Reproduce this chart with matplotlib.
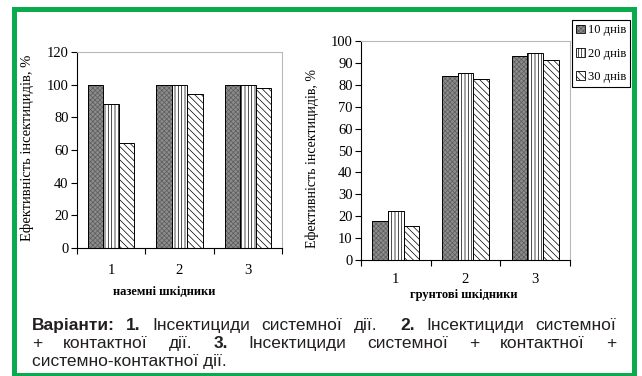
import numpy as np
import matplotlib
matplotlib.use("Agg")
import matplotlib.pyplot as plt
from matplotlib.patches import Rectangle, Patch

# дані
categories = ["1", "2", "3"]
series_names = ["10 днів", "20 днів", "30 днів"]

nazemni_10 = [100, 100, 100]
nazemni_20 = [88, 100, 100]
nazemni_30 = [64, 94, 98]

gruntovi_10 = [18, 84, 93.3]
gruntovi_20 = [22.5, 85.5, 94.3]
gruntovi_30 = [15.5, 82.5, 91.3]

left_yticks = [0, 20, 40, 60, 80, 100, 120]
right_yticks = [0, 10, 20, 30, 40, 50, 60, 70, 80, 90, 100]

ylabel_text = "Ефективність інсектицидів, %"
xlabel_left = "наземні шкідники"
xlabel_right = "грунтові шкідники"

W, H = 642, 376
plt.rcParams['hatch.linewidth'] = 0.5
serif = 'Liberation Serif'
sans = 'Liberation Sans'

# стилі стовпчиків
styles = [
    dict(face='#8c8c8c', hatch='xxxxxxx', hc='#5c5c5c'),
    dict(face='white', hatch='|||||', hc='black'),
    dict(face='white', hatch='\\' * 5, hc='black'),
]
bar_w = 0.225

fig = plt.figure(figsize=(W / 100, H / 100), dpi=100)


def px_box(x0, y0, x1, y1):
    # піксельні координати (зверху вниз) -> частки фігури
    return [x0 / W, 1 - y1 / H, (x1 - x0) / W, (y1 - y0) / H]


def draw_panel(ax, series, ymax, yticks, xpad):
    x = np.arange(len(categories))
    for i, (vals, st) in enumerate(zip(series, styles)):
        pos = x + (i - 1) * bar_w
        ax.bar(pos, vals, bar_w, color=st['face'], edgecolor=st['hc'],
               linewidth=0, hatch=st['hatch'], zorder=2)
        ax.bar(pos, vals, bar_w, color='none', edgecolor='black',
               linewidth=0.7, zorder=3)
    ax.set_xlim(-0.5, len(categories) - 0.5)
    ax.set_ylim(0, ymax)
    ax.set_yticks(yticks)
    ax.set_yticklabels([str(t) for t in yticks], family=serif, fontsize=10.5)
    ax.set_xticks(np.arange(len(categories) + 1) - 0.5)
    ax.set_xticklabels([])
    ax.set_xticks(x, minor=True)
    ax.set_xticklabels(categories, minor=True, family=serif, fontsize=10.5)
    ax.tick_params(axis='both', which='major', direction='out', length=4,
                   width=0.8, pad=2)
    ax.tick_params(axis='x', which='minor', length=0, pad=xpad)
    for s in ['left', 'bottom']:
        ax.spines[s].set_color('black')
        ax.spines[s].set_linewidth(0.8)
    for s in ['top', 'right']:
        ax.spines[s].set_color('#b8b8b8')
        ax.spines[s].set_linewidth(0.8)


ax1 = fig.add_axes(px_box(77, 52, 282, 248))
draw_panel(ax1, [nazemni_10, nazemni_20, nazemni_30], 120, left_yticks, 11.5)

ax2 = fig.add_axes(px_box(361, 41, 570, 260))
draw_panel(ax2, [gruntovi_10, gruntovi_20, gruntovi_30], 100, right_yticks, 9.5)

# підписи осей
fig.text(27 / W, 1 - 148 / H, ylabel_text, rotation=90, ha='center',
         va='center', family=serif, fontsize=10.5)
fig.text(312 / W, 1 - 158 / H, ylabel_text, rotation=90, ha='center',
         va='center', family=serif, fontsize=10)
fig.text(164 / W, 1 - 292 / H, xlabel_left, ha='center', va='center',
         family=serif, fontsize=9, fontweight='bold')
fig.text(464 / W, 1 - 295 / H, xlabel_right, ha='center', va='center',
         family=serif, fontsize=9, fontweight='bold')

# легенда
handles = []
for st in styles:
    fill = Patch(facecolor=st['face'], edgecolor=st['hc'], linewidth=0,
                 hatch=st['hatch'])
    edge = Patch(facecolor='none', edgecolor='black', linewidth=0.6)
    handles.append((fill, edge))
leg = fig.legend(handles, series_names, loc='upper left',
                 bbox_to_anchor=(572 / W, 1 - 20 / H),
                 prop=dict(family=serif, size=9), handlelength=0.7,
                 handleheight=0.7, handletextpad=0.2, labelspacing=0.9,
                 borderpad=0.35, borderaxespad=0, fancybox=False,
                 edgecolor='black', framealpha=1)
leg.get_frame().set_linewidth(0.8)

# підпис під графіком, вирівняний по ширині
line1 = [("Варіанти:", True, 1), ("1.", True, 1), ("Інсектициди", False, 1),
         ("системної", False, 1), ("дії.", False, 2), ("2.", True, 1),
         ("Інсектициди", False, 1), ("системної", False, 0)]
line2 = [("+", False, 1), ("контактної", False, 1), ("дії.", False, 1),
         ("3.", True, 1), ("Інсектициди", False, 1), ("системної", False, 1),
         ("+", False, 1), ("контактної", False, 1), ("+", False, 0)]
cap_x0, cap_x1 = 32, 616
cap_fs = 12.5
cap_color = '#231f20'

renderer = fig.canvas.get_renderer()


def justified(tokens, y):
    texts = []
    for word, bold, _ in tokens:
        t = fig.text(0, 1 - y / H, word, fontsize=cap_fs, family=sans,
                     fontweight='bold' if bold else 'normal',
                     va='baseline', ha='left', color=cap_color)
        texts.append(t)
    widths = [t.get_window_extent(renderer).width for t in texts]
    weights = [tk[2] for tk in tokens[:-1]]
    gap = (cap_x1 - cap_x0 - sum(widths)) / sum(weights)
    x = cap_x0
    for t, w, tk in zip(texts, widths, tokens):
        t.set_x(x / W)
        x += w + gap * tk[2]


justified(line1, 330)
justified(line2, 348)
fig.text(cap_x0 / W, 1 - 366 / H, "системно-контактної дії.", fontsize=cap_fs,
         family=sans, va='baseline', ha='left', color=cap_color)

# зелена рамка
fig.patches.append(Rectangle((14 / W, 1.5 / H), (634 - 14) / W,
                             (367.5 - 1.5) / H, transform=fig.transFigure,
                             fill=False, edgecolor='#0aab4c', linewidth=3.6))

fig.savefig("out.png", dpi=100)
